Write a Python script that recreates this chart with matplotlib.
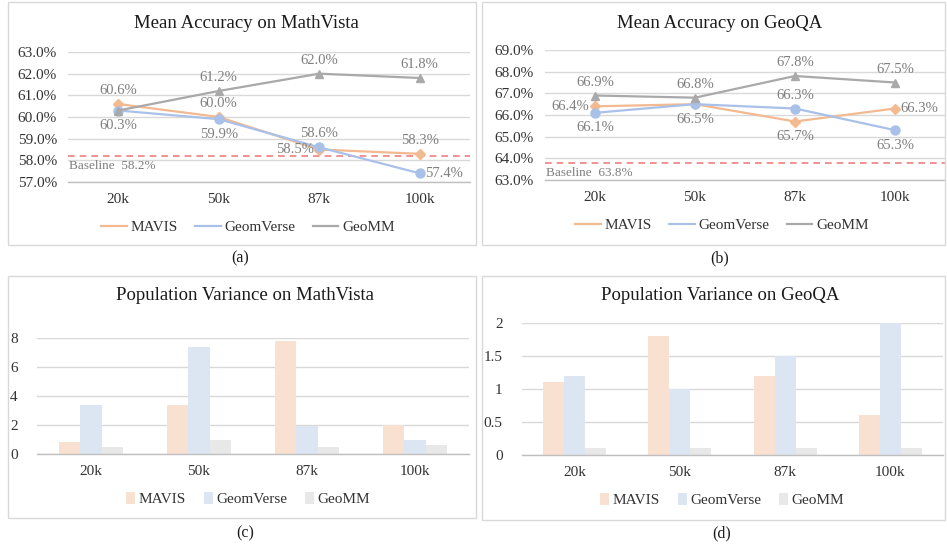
import matplotlib
matplotlib.use('Agg')
import matplotlib.pyplot as plt
from matplotlib.patches import Rectangle, Patch
from matplotlib.lines import Line2D
from matplotlib.ticker import FuncFormatter, MultipleLocator
import matplotlib.transforms as mtransforms
import numpy as np

plt.rcParams['font.family'] = ['Liberation Serif', 'DejaVu Serif']

# ---------------- data ----------------
categories = ['20k', '50k', '87k', '100k']
series_names = ['MAVIS', 'GeomVerse', 'GeoMM']

# Mean accuracy on MathVista (%)
mv_mavis = [60.6, 60.0, 58.5, 58.3]
mv_geomverse = [60.3, 59.9, 58.6, 57.4]
mv_geomm = [60.3, 61.2, 62.0, 61.8]
mv_baseline = 58.2

# Mean accuracy on GeoQA (%)
gq_mavis = [66.4, 66.5, 65.7, 66.3]
gq_geomverse = [66.1, 66.5, 66.3, 65.3]
gq_geomm = [66.9, 66.8, 67.8, 67.5]
gq_baseline = 63.8

# Population variance on MathVista
var_mv_mavis = [0.8, 3.35, 7.8, 2.0]
var_mv_geomverse = [3.35, 7.4, 1.95, 1.0]
var_mv_geomm = [0.5, 1.0, 0.45, 0.6]

# Population variance on GeoQA
var_gq_mavis = [1.1, 1.8, 1.2, 0.6]
var_gq_geomverse = [1.2, 1.0, 1.5, 2.0]
var_gq_geomm = [0.1, 0.1, 0.1, 0.1]

# ---------------- style ----------------
line_colors = ['#F3B990', '#A9C1E8', '#A9A9A9']
markers = ['D', 'o', '^']
marker_sizes = [5, 6.5, 6]
bar_colors = ['#F9E1D1', '#DCE6F3', '#E8E8E8']
label_gray = '#7F7F7F'
tick_color = '#333333'
grid_color = '#D9D9D9'

# label placements (style) for each series, per point
mv_pos = [['above', 'above', 'left', 'above'],
          ['below', 'below', 'above', 'right'],
          [None, 'above', 'above', 'above']]
gq_pos = [['left', None, 'below', 'right'],
          ['below', 'below', 'above', 'below'],
          ['above', 'above', 'above', 'above']]

W, H = 947, 548
fig = plt.figure(figsize=(W / 100, H / 100), dpi=100)


def ax_px(l, t, r, b):
    return fig.add_axes([l / W, 1 - b / H, (r - l) / W, (b - t) / H])


def ftext(x, y, s, **kw):
    fig.text(x / W, 1 - y / H, s, ha='center', va='center', **kw)


def box(l, t, r, b):
    fig.patches.append(Rectangle((l / W, 1 - b / H), (r - l) / W, (b - t) / H,
                                 transform=fig.transFigure, fill=False,
                                 edgecolor='#D9D9D9', lw=1.0, zorder=0))


def style_axes(ax):
    for s in ['top', 'right', 'left']:
        ax.spines[s].set_visible(False)
    ax.spines['bottom'].set_color('#BFBFBF')
    ax.spines['bottom'].set_linewidth(1.0)
    ax.grid(axis='y', color=grid_color, lw=1.0)
    ax.set_axisbelow(True)
    ax.tick_params(length=0, colors=tick_color)
    ax.tick_params(axis='y', labelsize=11, pad=8)
    ax.tick_params(axis='x', labelsize=11, pad=8)


offsets = {'above': ((0, 5), 'center', 'bottom'),
           'below': ((0, -6), 'center', 'top'),
           'left': ((-4, 0), 'right', 'center'),
           'right': ((4, 0), 'left', 'center')}


def line_panel(ax, data, positions, ylim, baseline):
    x = np.arange(len(categories))
    for vals, color, mk, ms, pos in zip(data, line_colors, markers, marker_sizes, positions):
        ax.plot(x, vals, color=color, lw=1.6, marker=mk, ms=ms, zorder=3)
        for xi, v, p in zip(x, vals, pos):
            if p is None:
                continue
            off, ha, va = offsets[p]
            ax.annotate(f'{v:.1f}%', (xi, v), xytext=off, textcoords='offset points',
                        ha=ha, va=va, color=label_gray, fontsize=10.5, zorder=4)
    ax.axhline(baseline, color='#EE7F7F', ls=(0, (4, 3)), lw=1.2, zorder=2)
    trans = mtransforms.blended_transform_factory(ax.transAxes, ax.transData)
    ax.annotate(f'Baseline  {baseline:.1f}%', (0, baseline), xycoords=trans,
                xytext=(1, -3), textcoords='offset points', ha='left', va='top',
                color=label_gray, fontsize=9.5)
    ax.set_xlim(-0.5, len(categories) - 0.5)
    ax.set_ylim(*ylim)
    ax.yaxis.set_major_locator(MultipleLocator(1))
    ax.yaxis.set_major_formatter(FuncFormatter(lambda v, p: f'{v:.1f}%'))
    ax.set_xticks(x)
    ax.set_xticklabels(categories)
    style_axes(ax)


def bar_panel(ax, data, ylim, step, fmt):
    x = np.arange(len(categories))
    w = 0.2
    for i, (vals, color) in enumerate(zip(data, bar_colors)):
        ax.bar(x + (i - 1) * w, vals, width=w, color=color, zorder=2)
    ax.set_xlim(-0.5, len(categories) - 0.5)
    ax.set_ylim(*ylim)
    ax.yaxis.set_major_locator(MultipleLocator(step))
    ax.yaxis.set_major_formatter(FuncFormatter(fmt))
    ax.set_xticks(x)
    ax.set_xticklabels(categories)
    style_axes(ax)
    ax.tick_params(axis='y', pad=14)


def line_legend(cx, cy):
    handles = [Line2D([], [], color=c, lw=1.6) for c in line_colors]
    fig.legend(handles, series_names, loc='center', bbox_to_anchor=(cx / W, 1 - cy / H),
               ncol=3, frameon=False, fontsize=11, handlelength=1.7, handletextpad=0.25,
               columnspacing=1.1, labelcolor=tick_color)


def bar_legend(cx, cy):
    handles = [Patch(facecolor=c, edgecolor='none') for c in bar_colors]
    fig.legend(handles, series_names, loc='center', bbox_to_anchor=(cx / W, 1 - cy / H),
               ncol=3, frameon=False, fontsize=11, handlelength=0.6, handleheight=0.8,
               handletextpad=0.2, columnspacing=1.2, labelcolor=tick_color)


# panel frames
box(8, 2, 476, 245)
box(482, 2, 945, 245)
box(8, 276, 476, 518)
box(482, 276, 945, 520)

# (a)
ax_a = ax_px(68, 52, 470, 182)
line_panel(ax_a, [mv_mavis, mv_geomverse, mv_geomm], mv_pos, (57, 63), mv_baseline)
ftext(246, 23, 'Mean Accuracy on MathVista', fontsize=13.5, color='#1a1a1a')
line_legend(248, 227)
ftext(240, 258, '(a)', fontsize=11.5, color='#1a1a1a')

# (b)
ax_b = ax_px(545, 50, 945, 180)
line_panel(ax_b, [gq_mavis, gq_geomverse, gq_geomm], gq_pos, (63, 69), gq_baseline)
ftext(720, 23, 'Mean Accuracy on GeoQA', fontsize=13.5, color='#1a1a1a')
line_legend(722, 225)
ftext(720, 258, '(b)', fontsize=11.5, color='#1a1a1a')

# (c)
ax_c = ax_px(37, 338, 469, 454)
bar_panel(ax_c, [var_mv_mavis, var_mv_geomverse, var_mv_geomm], (0, 8), 2,
          lambda v, p: f'{v:g}')
ftext(245, 296, 'Population Variance on MathVista', fontsize=13.5, color='#1a1a1a')
bar_legend(248, 499)
ftext(245, 533, '(c)', fontsize=11.5, color='#1a1a1a')

# (d)
ax_d = ax_px(522, 323, 943, 455)
bar_panel(ax_d, [var_gq_mavis, var_gq_geomverse, var_gq_geomm], (0, 2), 0.5,
          lambda v, p: f'{v:g}')
ftext(720, 296, 'Population Variance on GeoQA', fontsize=13.5, color='#1a1a1a')
bar_legend(722, 500)
ftext(722, 533, '(d)', fontsize=11.5, color='#1a1a1a')

fig.savefig('out.png', dpi=100)
